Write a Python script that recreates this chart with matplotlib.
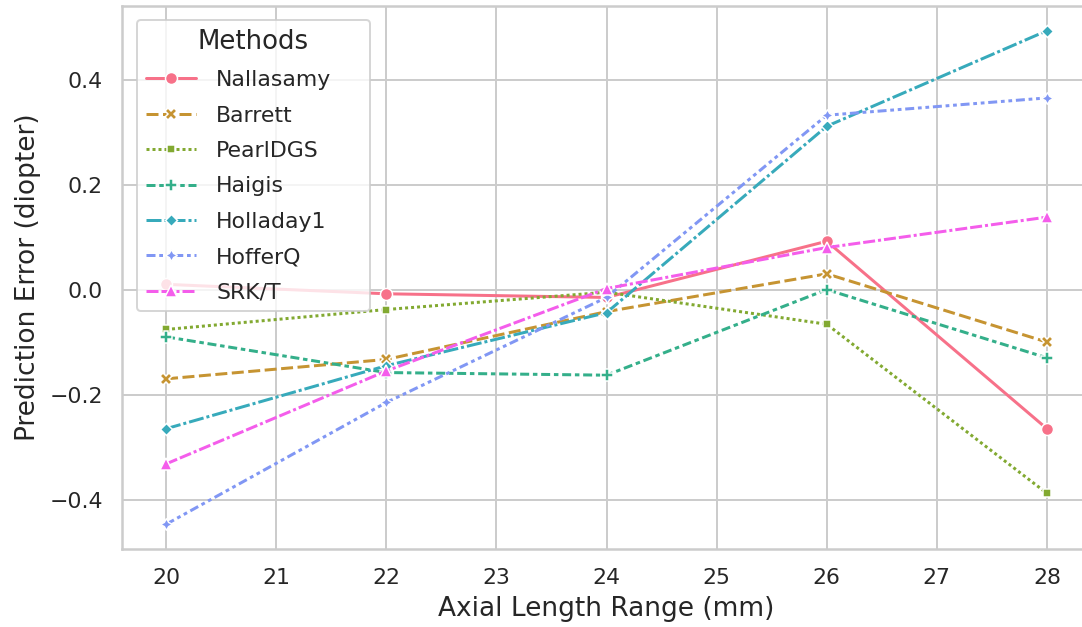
import numpy as np
import pandas as pd
import matplotlib
matplotlib.use("Agg")
import matplotlib.pyplot as plt
import seaborn as sns

# axial length bins (mm)
axial_length = [20, 22, 24, 26, 28]

methods = ["Nallasamy", "Barrett", "PearlDGS", "Haigis", "Holladay1", "HofferQ", "SRK/T"]

# mean prediction error per bin (diopter)
nallasamy = [0.010, -0.008, -0.015, 0.092, -0.265]
barrett = [-0.170, -0.133, -0.042, 0.030, -0.100]
pearldgs = [-0.076, -0.038, -0.005, -0.066, -0.388]
haigis = [-0.090, -0.158, -0.163, 0.000, -0.130]
holladay1 = [-0.265, -0.145, -0.044, 0.311, 0.493]
hofferq = [-0.447, -0.215, -0.015, 0.332, 0.365]
srkt = [-0.332, -0.155, 0.002, 0.080, 0.138]

series = [nallasamy, barrett, pearldgs, haigis, holladay1, hofferq, srkt]

rows = []
for name, vals in zip(methods, series):
    for x, v in zip(axial_length, vals):
        rows.append({"Axial Length Range (mm)": x, "Prediction Error (diopter)": v, "Methods": name})
df = pd.DataFrame(rows)

sns.set_theme(style="whitegrid")
DPI = 144
W, H = 1082, 627
fig = plt.figure(figsize=(W / DPI, H / DPI), dpi=DPI)
# right spine falls just outside the canvas, as in the reference crop
ax_l, ax_t, ax_w, ax_h = 122, 6, 969, 543
ax = fig.add_axes([ax_l / W, 1 - (ax_t + ax_h) / H, ax_w / W, ax_h / H])

sns.lineplot(data=df, x="Axial Length Range (mm)", y="Prediction Error (diopter)",
             hue="Methods", style="Methods", markers=True, dashes=True,
             palette="husl", ax=ax)

ax.set_xlabel("Axial Length Range (mm)", fontsize=13.2)
ax.set_ylabel("Prediction Error (diopter)", fontsize=13.2)

# legend frame at x 137..370 px, top at 20 px
lx0 = (137 - ax_l) / ax_w
lw = 233 / ax_w
ltop = 1 - (20 - ax_t) / ax_h
leg = ax.legend(title="Methods", loc="upper left", mode="expand",
                bbox_to_anchor=(lx0, ltop - 0.01, lw, 0.01), borderaxespad=0,
                handlelength=2.3, handletextpad=0.9, labelspacing=0.7,
                fontsize=11, title_fontsize=13)

fig.savefig("out.png", dpi=DPI)
